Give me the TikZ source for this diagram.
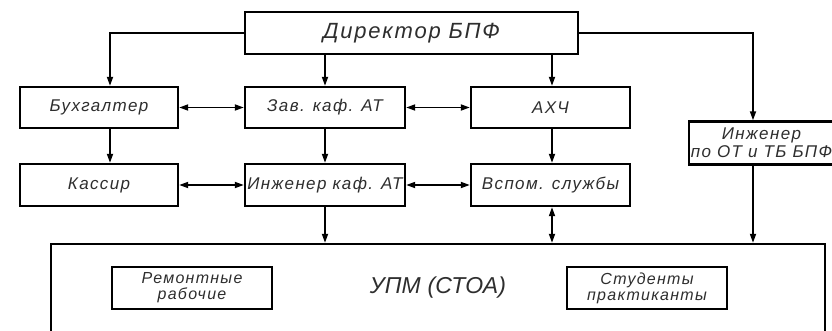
\documentclass[tikz,border=0pt]{standalone}
\usepackage{fontspec}
\setmainfont{Liberation Sans}
\newfontfamily\gost{Liberation Sans}[LetterSpace=8]
\newfontfamily\gostn{Liberation Sans}[LetterSpace=1]
\usetikzlibrary{arrows.meta,calc}
\begin{document}
\begin{tikzpicture}[x=1pt,y=-1pt,
  box/.style={draw=black,line width=2.4pt,rectangle,inner sep=0pt,align=center,
    text=black!82,font=\gost\itshape\fontsize{17}{18}\selectfont},
  arr/.style={line width=1.7pt,-{Triangle[length=9pt,width=6pt]}},
  darr/.style={line width=1.7pt,{Triangle[length=9pt,width=6pt]}-{Triangle[length=9pt,width=6pt]}}]
\clip (0,0) rectangle (832,330);
\fill[white] (0,0) rectangle (832,330);
% boxes
\node[box,minimum width=333pt,minimum height=42pt,font=\gost\itshape\fontsize{22}{24}\selectfont] (dir) at (411.5,33) {Директор БПФ};
\node[box,minimum width=158pt,minimum height=41pt] (buh) at (99,107.5) {Бухгалтер};
\node[box,minimum width=160pt,minimum height=41pt] (zav) at (325,107.5) {Зав. каф. АТ};
\node[box,minimum width=159pt,minimum height=41pt] (ahch) at (550.5,107.5) {АХЧ};
\node[box,minimum width=158pt,minimum height=42pt] (kas) at (99,185) {Кассир};
\node[box,minimum width=160pt,minimum height=42pt] (ing) at (325,185) {Инженер каф. АТ};
\node[box,minimum width=159pt,minimum height=42pt] (vsp) at (550.5,185) {Вспом. службы};
\node[box,minimum width=145pt,minimum height=43pt,font=\gost\itshape\fontsize{17}{18}\selectfont] (ot) at (761.5,143) {Инженер\\по ОТ и ТБ БПФ};
\node[box,minimum width=774pt,minimum height=88pt,font=\gostn\itshape\fontsize{23}{24}\selectfont] (upm) at (438,288) {УПМ (СТОА)};
\node[box,minimum width=160pt,minimum height=42pt,font=\gost\itshape\fontsize{16}{16}\selectfont] (rem) at (192,288) {Ремонтные\\рабочие};
\node[box,minimum width=160pt,minimum height=42pt,font=\gost\itshape\fontsize{16}{16}\selectfont] (stud) at (647,288) {Студенты\\практиканты};
% guide coordinates
\coordinate (xa) at (110,0);
\coordinate (xb) at (325,0);
\coordinate (xc) at (552,0);
\coordinate (xd) at (753,0);
% connectors
\draw[arr] (dir.west) -| (buh.north -| xa);
\draw[arr] (dir.south -| xb) -- (zav.north -| xb);
\draw[arr] (dir.south -| xc) -- (ahch.north -| xc);
\draw[arr] (dir.east) -| (ot.north -| xd);
\draw[darr] (buh.east) -- (zav.west);
\draw[darr] (zav.east) -- (ahch.west);
\draw[arr] (buh.south -| xa) -- (kas.north -| xa);
\draw[arr] (zav.south -| xb) -- (ing.north -| xb);
\draw[arr] (ahch.south -| xc) -- (vsp.north -| xc);
\draw[darr] (kas.east) -- (ing.west);
\draw[darr] (ing.east) -- (vsp.west);
\draw[arr] (ing.south -| xb) -- (upm.north -| xb);
\draw[darr] (vsp.south -| xc) -- (upm.north -| xc);
\draw[arr] (ot.south -| xd) -- (upm.north -| xd);
\end{tikzpicture}
\end{document}
